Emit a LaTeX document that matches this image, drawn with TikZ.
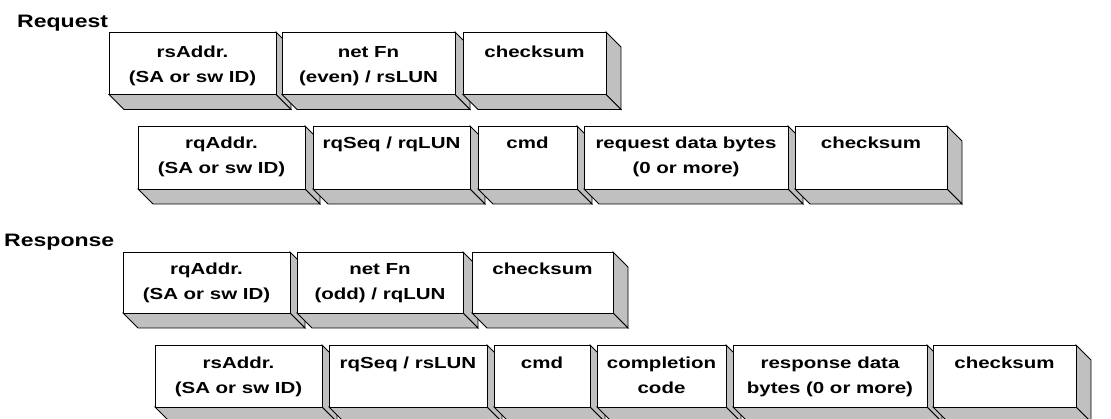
\documentclass[tikz,border=0pt]{standalone}
\usepackage{fontspec}
\newfontfamily\boxfont{Liberation Sans}[FakeStretch=1.28]
\usetikzlibrary{calc,fit}
\definecolor{sidegray}{RGB}{192,192,192}
\tikzset{
  sideface/.style={draw=black, fill=sidegray, line width=0.9pt, line join=miter},
  frontface/.style={draw=black, fill=white, line width=0.9pt, inner sep=0pt, outer sep=0pt},
  boxtext/.style={anchor=base, align=center, inner sep=0pt, font=\boxfont\bfseries\fontsize{16}{25}\selectfont},
  rowlabel/.style={anchor=base west, inner sep=0pt, font=\boxfont\bfseries\fontsize{18}{22}\selectfont}
}
\newcommand\dd{15}
% name, x0, x1, top, bottom, text, offset of the last baseline below the top
\newcommand\mybox[7]{%
  \coordinate (#1nw) at (#2,-#4);
  \coordinate (#1se) at (#3,-#5);
  \draw[sideface] (#1nw -| #1se) -- ++(\dd,-\dd) -- ($(#1se)+(\dd,-\dd)$) -- (#1se) -- cycle;
  \draw[sideface] (#1nw |- #1se) -- (#1se) -- ++(\dd,-\dd) -- ($(#1nw |- #1se)+(\dd,-\dd)$) -- cycle;
  \node[frontface, fit=(#1nw)(#1se)] (#1) {};
  \node[boxtext] (#1t) at ([yshift=-#7]#1.north) {#6};
}
\begin{document}
\begin{tikzpicture}[x=1pt,y=1pt]
\useasboundingbox (0,0) rectangle (1111,-419);
\clip (0,0) rectangle (1111,-419);
\node[rowlabel] (req) at (17,-28) {Request};
\node[rowlabel] (resp) at (4,-247) {Response};
% Row 1
\mybox{a}{109}{276}{32}{94.5}{rsAddr.\\(SA or sw ID)}{50.5}
\mybox{b}{282}{455}{32}{94.5}{net Fn\\(even) / rsLUN}{50.5}
\mybox{c}{463}{606}{32}{94.5}{checksum}{25.5}
% Row 2
\mybox{d}{138}{305}{126}{189}{rqAddr.\\(SA or sw ID)}{48}
\mybox{e}{313}{470}{126}{189}{rqSeq / rqLUN}{23}
\mybox{f}{478}{577}{126}{189}{cmd}{23}
\mybox{g}{584}{788}{126}{189}{request data bytes\\(0 or more)}{48}
\mybox{h}{795}{947}{126}{189}{checksum}{23}
% Row 3
\mybox{i}{123}{290}{252}{313}{rqAddr.\\(SA or sw ID)}{48}
\mybox{j}{297}{463}{252}{313}{net Fn\\(odd) / rqLUN}{48}
\mybox{k}{472}{613}{252}{313}{checksum}{23}
% Row 4
\mybox{l}{155}{322}{345}{407}{rsAddr.\\(SA or sw ID)}{48.5}
\mybox{m}{329}{487}{345}{407}{rqSeq / rsLUN}{23.5}
\mybox{n}{494}{590}{345}{407}{cmd}{23.5}
\mybox{o}{597}{726}{345}{407}{completion\\code}{48.5}
\mybox{p}{733}{927}{345}{407}{response data\\bytes (0 or more)}{48.5}
\mybox{q}{933}{1076}{345}{407}{checksum}{23.5}
\end{tikzpicture}
\end{document}
